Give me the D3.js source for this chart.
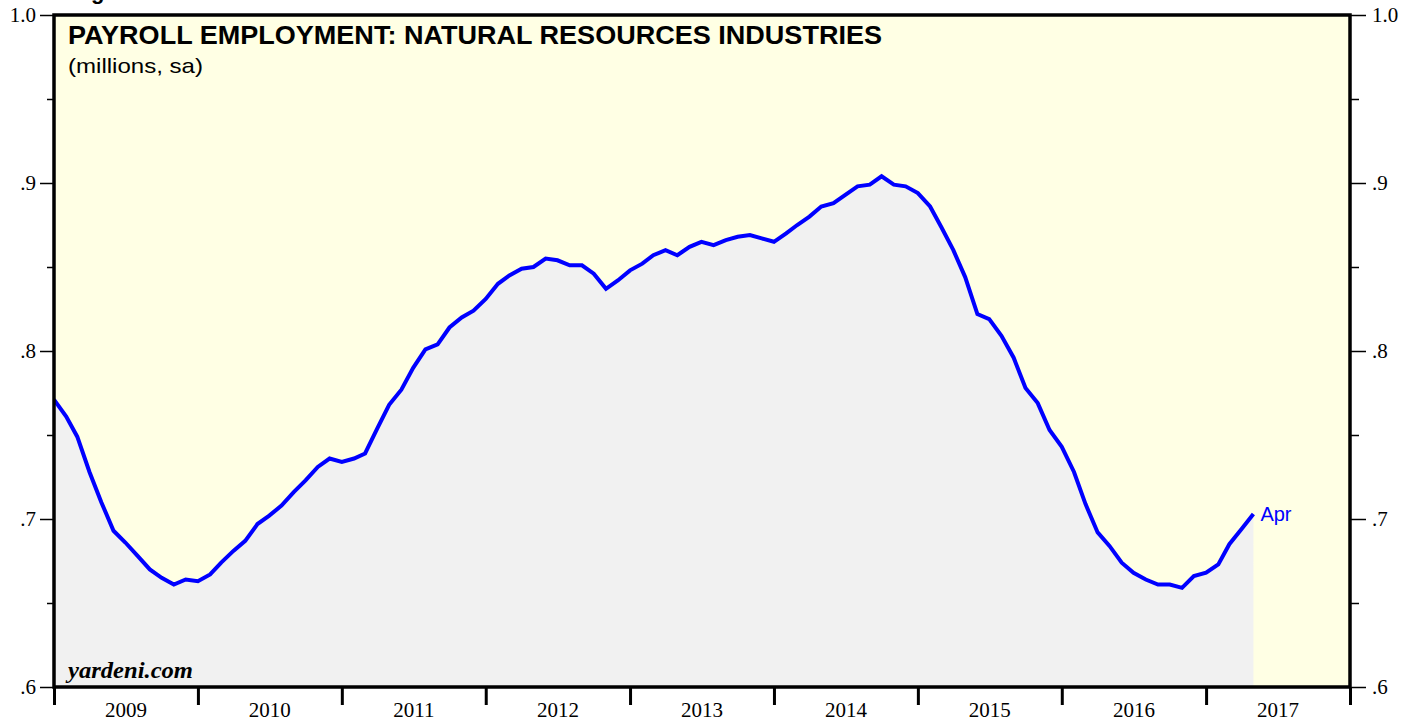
<!DOCTYPE html>
<html><head><meta charset="utf-8">
<script src="https://cdn.jsdelivr.net/npm/d3@7"></script>
<style>
html,body{margin:0;padding:0;background:#fff;}
svg{display:block;}
</style></head>
<body>
<script>
// ---- data ----
const title = "PAYROLL EMPLOYMENT: NATURAL RESOURCES INDUSTRIES";
const subtitle = "(millions, sa)";
const firstMonth = "2008-12";
const values = [
  0.771,
  0.761,0.749,0.728,0.710,0.693,0.686,0.678,0.670,0.665,0.661,0.664,0.663,
  0.667,0.674,0.681,0.687,0.697,0.702,0.708,0.716,0.723,0.731,0.736,0.734,
  0.736,0.739,0.754,0.768,0.777,0.790,0.801,0.804,0.814,0.820,0.824,0.831,
  0.840,0.845,0.849,0.850,0.855,0.854,0.851,0.851,0.846,0.837,0.842,0.848,
  0.852,0.857,0.860,0.857,0.862,0.865,0.863,0.866,0.868,0.869,0.867,0.865,
  0.870,0.875,0.880,0.886,0.888,0.893,0.898,0.899,0.904,0.899,0.898,0.894,
  0.886,0.874,0.860,0.844,0.822,0.819,0.809,0.796,0.778,0.769,0.753,0.743,
  0.728,0.709,0.692,0.684,0.674,0.668,0.664,0.661,0.661,0.659,0.666,0.668,
  0.673,0.685,0.694,0.703
];
const lastLabel = "Apr";
const yearLabels = ["2009","2010","2011","2012","2013","2014","2015","2016","2017"];
const yMajorTicks = [0.6,0.7,0.8,0.9,1.0];
const yMajorLabels = [".6",".7",".8",".9","1.0"];
const yMinorTicks = [0.65,0.75,0.85,0.95];

// ---- layout ----
const W = 1416, H = 721;
const L = 54, R = 1350, T = 15, B = 687;
const sans = "'Liberation Sans', Arial, Helvetica, sans-serif";
const serif = "'Liberation Serif', 'Times New Roman', serif";

const svg = d3.select("body").append("svg").attr("width", W).attr("height", H);

const parse = d3.timeParse("%Y-%m");
const start = parse(firstMonth);
const pts = values.map((v,i)=>({date: d3.timeMonth.offset(start, i+1), v}));

const x = d3.scaleTime().domain([new Date(2009,0,1), new Date(2018,0,1)]).range([L,R]);
const y = d3.scaleLinear().domain([0.6,1.0]).range([B,T]);

// background
svg.append("rect").attr("x",L).attr("y",T).attr("width",R-L).attr("height",B-T).attr("fill","#ffffe4");

// clipped group
svg.append("clipPath").attr("id","clip").append("rect").attr("x",L).attr("y",T).attr("width",R-L).attr("height",B-T);
const g = svg.append("g").attr("clip-path","url(#clip)");

g.append("path").datum(pts)
  .attr("fill","#f1f1f1")
  .attr("d", d3.area().x(d=>x(d.date)).y0(B).y1(d=>y(d.v)));

g.append("path").datum(pts)
  .attr("fill","none").attr("stroke","#0000ff").attr("stroke-width",4)
  .attr("stroke-linejoin","miter")
  .attr("d", d3.line().x(d=>x(d.date)).y(d=>y(d.v)));

// last label
const last = pts[pts.length-1];
svg.append("text").attr("x", x(last.date)+7).attr("y", y(last.v)+7)
  .attr("font-family",sans).attr("font-size",20)
  .attr("fill","#0000ff").text(lastLabel);

// title
svg.append("text").attr("x",68).attr("y",44)
  .attr("font-family",sans).attr("font-weight","bold")
  .attr("font-size",25).attr("textLength",814).attr("lengthAdjust","spacingAndGlyphs")
  .attr("fill","#000").text(title);
svg.append("text").attr("x",68).attr("y",73)
  .attr("font-family",sans)
  .attr("font-size",21).attr("textLength",135).attr("lengthAdjust","spacingAndGlyphs")
  .attr("fill","#000").text(subtitle);
// cut-off heading descender at very top (as in the reference)
svg.append("text").attr("x",91).attr("y",-1)
  .attr("font-family",sans).attr("font-weight","bold")
  .attr("font-size",22).attr("fill","#000").text("g");

svg.append("text").attr("x",68).attr("y",678)
  .attr("font-family",serif).attr("font-weight","bold")
  .attr("font-style","italic").attr("font-size",23)
  .attr("textLength",125).attr("lengthAdjust","spacingAndGlyphs")
  .attr("fill","#000").text("yardeni.com");

// y axes
const yLeft = d3.axisLeft(y).tickValues(yMajorTicks).tickSize(14).tickPadding(4)
  .tickFormat((d,i)=>yMajorLabels[i]);
const yRight = d3.axisRight(y).tickValues(yMajorTicks).tickSize(16).tickPadding(6)
  .tickFormat((d,i)=>yMajorLabels[i]);
const yLeftMinor = d3.axisLeft(y).tickValues(yMinorTicks).tickSize(7).tickFormat("");
const yRightMinor = d3.axisRight(y).tickValues(yMinorTicks).tickSize(9).tickFormat("");

function styleAxis(sel){
  sel.select(".domain").remove();
  sel.selectAll(".tick line").attr("stroke","#000").attr("stroke-width",1.5);
  sel.selectAll(".tick text").attr("font-family",serif).attr("font-size",21).attr("fill","#000");
}
svg.append("g").attr("transform",`translate(${L},0)`).call(yLeft).call(styleAxis);
svg.append("g").attr("transform",`translate(${L},0)`).call(yLeftMinor).call(styleAxis);
svg.append("g").attr("transform",`translate(${R},0)`).call(yRight).call(styleAxis);
svg.append("g").attr("transform",`translate(${R},0)`).call(yRightMinor).call(styleAxis);
svg.selectAll(".tick text").attr("dy","0.3em");

// x axis: year boundary ticks
const yearTicks = d3.range(2009,2019).map(yr=>new Date(yr,0,1));
const xAxis = d3.axisBottom(x).tickValues(yearTicks).tickSize(18).tickFormat("");
const xg = svg.append("g").attr("transform",`translate(0,${B})`).call(xAxis);
xg.select(".domain").remove();
xg.selectAll(".tick line").attr("stroke","#000").attr("stroke-width",3);

// year labels centered
svg.append("g").selectAll("text").data(yearLabels).join("text")
  .attr("x", d=>(x(new Date(+d,0,1))+x(new Date(+d+1,0,1)))/2)
  .attr("y", 717).attr("text-anchor","middle")
  .attr("font-family",serif).attr("font-size",21).attr("fill","#000")
  .text(d=>d);

// frame
svg.append("rect").attr("x",L).attr("y",T).attr("width",R-L).attr("height",B-T)
  .attr("fill","none").attr("stroke","#000").attr("stroke-width",3.5);
</script>
</body></html>
